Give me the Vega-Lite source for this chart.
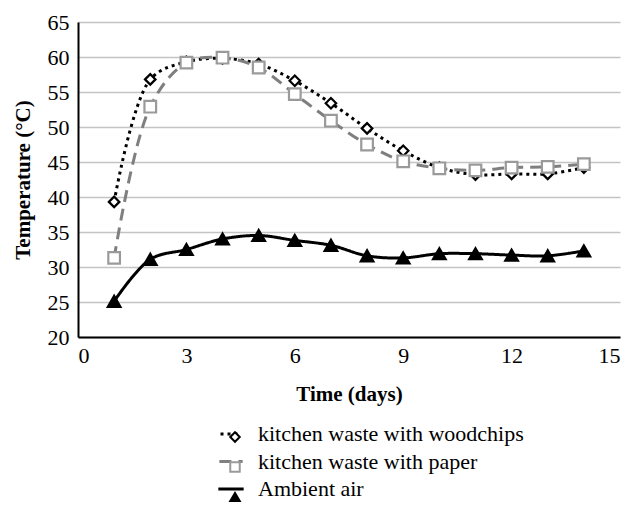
{
  "$schema": "https://vega.github.io/schema/vega-lite/v6.json",
  "width": 542,
  "height": 315,
  "autosize": "none",
  "padding": {"left": 78, "top": 22, "right": 14, "bottom": 170},
  "background": "white",
  "config": {
    "font": "Liberation Serif",
    "view": {"stroke": null},
    "axis": {
      "labelFont": "Liberation Serif",
      "labelFontSize": 22,
      "labelColor": "black",
      "titleFont": "Liberation Serif",
      "titleFontSize": 21,
      "titleFontWeight": "bold",
      "titleColor": "black",
      "domainColor": "black",
      "domainWidth": 2,
      "ticks": false,
      "gridColor": "#c4c4c4",
      "gridWidth": 1.5
    },
    "legend": {
      "labelFont": "Liberation Serif",
      "labelFontSize": 22
    }
  },
  "data": {
    "values": [
      {"day": 1, "series": "kitchen waste with woodchips", "temp": 39.3},
      {"day": 2, "series": "kitchen waste with woodchips", "temp": 56.8},
      {"day": 3, "series": "kitchen waste with woodchips", "temp": 59.3},
      {"day": 4, "series": "kitchen waste with woodchips", "temp": 59.8},
      {"day": 5, "series": "kitchen waste with woodchips", "temp": 59.0},
      {"day": 6, "series": "kitchen waste with woodchips", "temp": 56.6},
      {"day": 7, "series": "kitchen waste with woodchips", "temp": 53.4},
      {"day": 8, "series": "kitchen waste with woodchips", "temp": 49.8},
      {"day": 9, "series": "kitchen waste with woodchips", "temp": 46.6},
      {"day": 10, "series": "kitchen waste with woodchips", "temp": 44.2},
      {"day": 11, "series": "kitchen waste with woodchips", "temp": 43.2},
      {"day": 12, "series": "kitchen waste with woodchips", "temp": 43.3},
      {"day": 13, "series": "kitchen waste with woodchips", "temp": 43.3},
      {"day": 14, "series": "kitchen waste with woodchips", "temp": 44.2},
      {"day": 1, "series": "kitchen waste with paper", "temp": 31.3},
      {"day": 2, "series": "kitchen waste with paper", "temp": 52.9},
      {"day": 3, "series": "kitchen waste with paper", "temp": 59.2},
      {"day": 4, "series": "kitchen waste with paper", "temp": 59.9},
      {"day": 5, "series": "kitchen waste with paper", "temp": 58.5},
      {"day": 6, "series": "kitchen waste with paper", "temp": 54.7},
      {"day": 7, "series": "kitchen waste with paper", "temp": 50.9},
      {"day": 8, "series": "kitchen waste with paper", "temp": 47.5},
      {"day": 9, "series": "kitchen waste with paper", "temp": 45.1},
      {"day": 10, "series": "kitchen waste with paper", "temp": 44.1},
      {"day": 11, "series": "kitchen waste with paper", "temp": 43.8},
      {"day": 12, "series": "kitchen waste with paper", "temp": 44.2},
      {"day": 13, "series": "kitchen waste with paper", "temp": 44.3},
      {"day": 14, "series": "kitchen waste with paper", "temp": 44.7},
      {"day": 1, "series": "Ambient air", "temp": 25.1},
      {"day": 2, "series": "Ambient air", "temp": 31.1},
      {"day": 3, "series": "Ambient air", "temp": 32.5},
      {"day": 4, "series": "Ambient air", "temp": 34.0},
      {"day": 5, "series": "Ambient air", "temp": 34.5},
      {"day": 6, "series": "Ambient air", "temp": 33.8},
      {"day": 7, "series": "Ambient air", "temp": 33.1},
      {"day": 8, "series": "Ambient air", "temp": 31.6},
      {"day": 9, "series": "Ambient air", "temp": 31.3},
      {"day": 10, "series": "Ambient air", "temp": 31.9},
      {"day": 11, "series": "Ambient air", "temp": 31.9},
      {"day": 12, "series": "Ambient air", "temp": 31.7},
      {"day": 13, "series": "Ambient air", "temp": 31.6},
      {"day": 14, "series": "Ambient air", "temp": 32.3}
    ]
  },
  "encoding": {
    "x": {
      "field": "day",
      "type": "quantitative",
      "scale": {"domain": [0, 15], "nice": false},
      "axis": {"values": [0, 3, 6, 9, 12, 15], "title": "Time (days)", "grid": false, "labelPadding": 8, "titlePadding": 17}
    },
    "y": {
      "field": "temp",
      "type": "quantitative",
      "scale": {"domain": [20, 65], "nice": false, "zero": false},
      "axis": {"values": [20, 25, 30, 35, 40, 45, 50, 55, 60, 65], "title": "Temperature (°C)", "grid": true, "labelPadding": 9, "titlePadding": 14}
    }
  },
  "layer": [
    {
      "mark": {"type": "line", "interpolate": "catmull-rom", "strokeWidth": 3},
      "encoding": {
        "color": {
          "field": "series",
          "type": "nominal",
          "scale": {"domain": ["kitchen waste with woodchips", "kitchen waste with paper", "Ambient air"], "range": ["black", "#7f7f7f", "black"]},
          "legend": {"orient": "none", "legendX": 142, "legendY": 401, "title": null, "symbolType": "M-2,0H2", "symbolSize": 576, "symbolStrokeWidth": 3, "labelFontSize": 22, "labelColor": "black", "labelOffset": 16, "rowPadding": 5.5, "padding": 0, "labelLimit": 450}
        },
        "strokeDash": {
          "field": "series",
          "type": "nominal",
          "scale": {"domain": ["kitchen waste with woodchips", "kitchen waste with paper", "Ambient air"], "range": [[3, 4], [12, 7], [1, 0]]},
          "legend": {"orient": "none", "legendX": 142, "legendY": 401, "title": null, "symbolType": "M-2,0H2", "symbolSize": 576, "symbolStrokeWidth": 3, "labelFontSize": 22, "labelColor": "black", "labelOffset": 16, "rowPadding": 5.5, "padding": 0, "labelLimit": 450}
        }
      }
    },
    {
      "mark": {"type": "point", "filled": true, "strokeWidth": 2.2, "opacity": 1},
      "encoding": {
        "shape": {
          "field": "series",
          "type": "nominal",
          "scale": {"domain": ["kitchen waste with woodchips", "kitchen waste with paper", "Ambient air"], "range": ["diamond", "square", "triangle-up"]},
          "legend": {"orient": "top-left", "offset": 404, "symbolOffset": -258, "direction": "vertical", "title": null, "labelFontSize": 22, "labelColor": "transparent", "labelOffset": 5, "rowPadding": 8, "padding": 0, "labelLimit": 450, "symbolSize": 90, "symbolStrokeWidth": 2, "symbolFillColor": "transparent", "symbolStrokeColor": "black"}
        },
        "fill": {
          "field": "series",
          "type": "nominal",
          "scale": {"domain": ["kitchen waste with woodchips", "kitchen waste with paper", "Ambient air"], "range": ["white", "white", "black"]},
          "legend": null
        },
        "stroke": {
          "field": "series",
          "type": "nominal",
          "scale": {"domain": ["kitchen waste with woodchips", "kitchen waste with paper", "Ambient air"], "range": ["black", "#9a9a9a", "black"]},
          "legend": null
        },
        "size": {
          "field": "series",
          "type": "nominal",
          "scale": {"domain": ["kitchen waste with woodchips", "kitchen waste with paper", "Ambient air"], "range": [110, 160, 150]},
          "legend": null
        }
      }
    }
  ]
}
